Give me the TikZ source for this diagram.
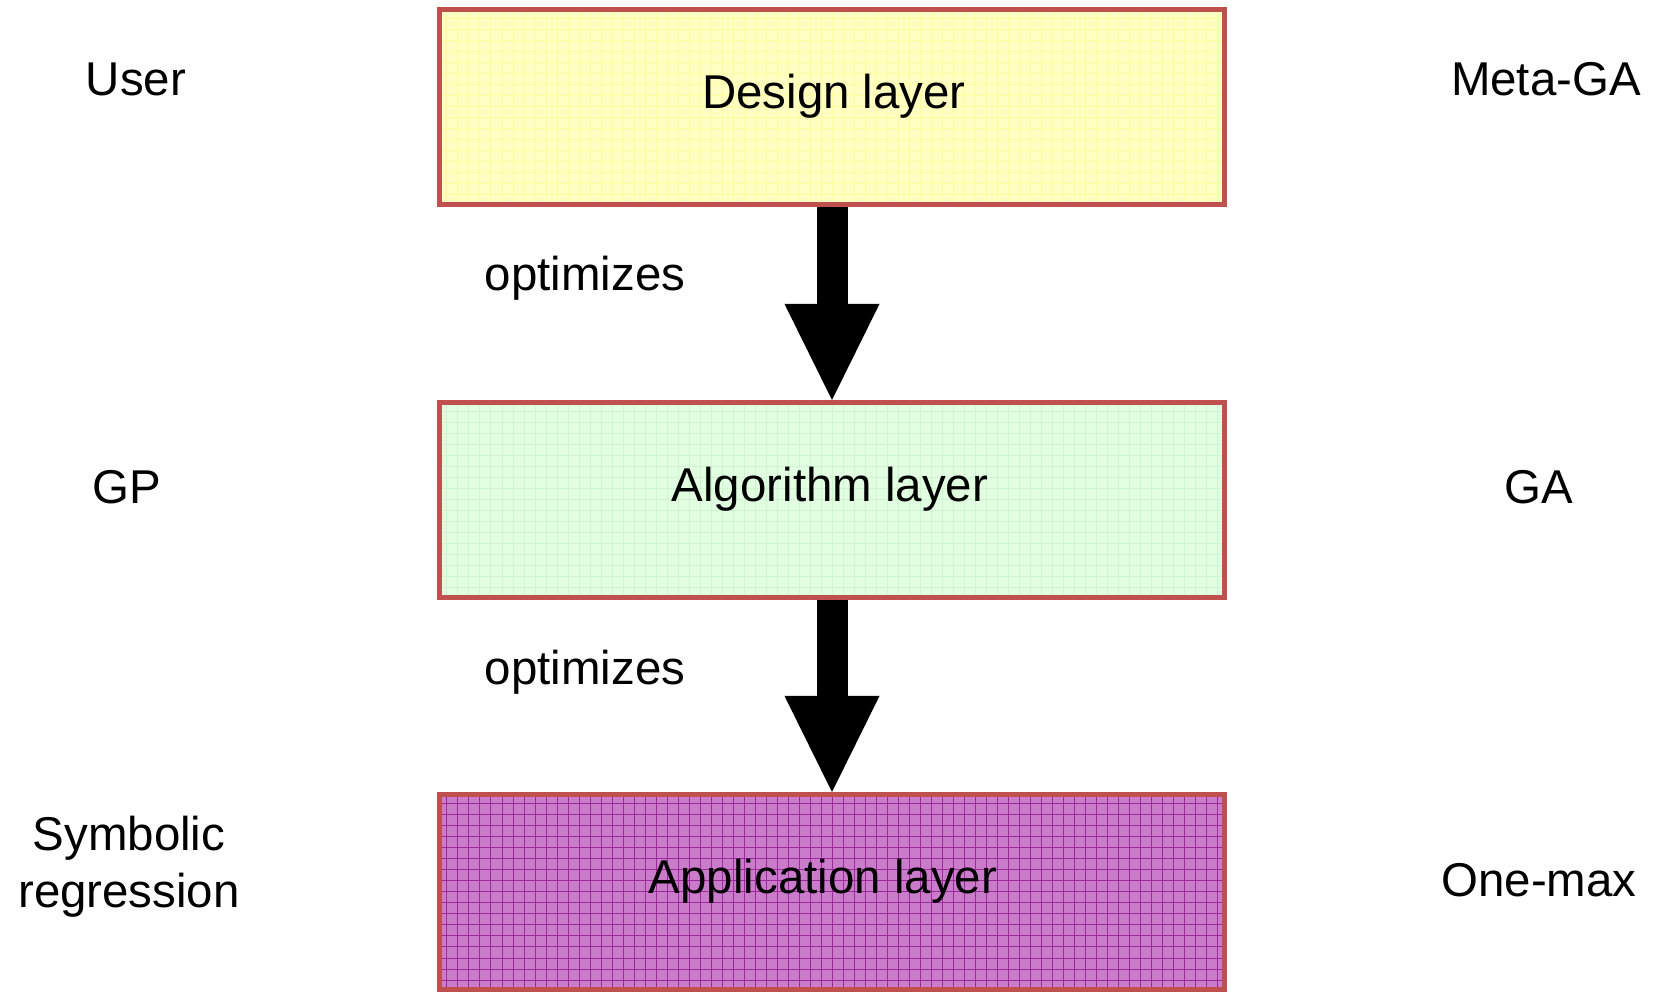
\documentclass[tikz,border=0pt]{standalone}
\usepackage{fontspec}
\setmainfont{Liberation Sans}
\usepackage{xcolor}
\usepackage{tikz}
\usetikzlibrary{
	arrows.meta,
	calc,
	positioning
}
\definecolor{layerborder}{HTML}{C0504D}
\definecolor{designfill}{HTML}{FFFFC4}
\definecolor{designgrid}{HTML}{FFFFA0}
\definecolor{algofill}{HTML}{E2FFE2}
\definecolor{algogrid}{HTML}{CDF7CD}
\definecolor{appfill}{HTML}{CA7CCA}
\definecolor{appgrid}{HTML}{9C2A9C}

\begin{document}
\begin{tikzpicture}[x=0.2mm, y=-0.2mm,
		every node/.style={font=\fontsize{27}{32.4}\selectfont},
		layer/.style={draw=layerborder, line width=1mm, minimum width=157mm, minimum height=39mm, inner sep=0pt},
		gridfill/.style={path picture={\draw[#1, line width=0.2mm, step=2.2mm] (path picture bounding box.south west) grid (path picture bounding box.north east);}},
		bigarrow/.style={line width=6.2mm, -{Triangle[width=19mm, length=19.2mm, line width=0pt]}}
	]
		\useasboundingbox (0,0) rectangle (1654,992);
		% 三个层
		\node[layer, fill=designfill, gridfill=designgrid] (design) at (832,107) {};
		\node[layer, fill=algofill, gridfill=algogrid] (algo) at (832,500) {};
		\node[layer, fill=appfill, gridfill=appgrid] (app) at (832,892) {};
		\node (design-txt) at (834,96) {Design layer};
		\node (algo-txt) at (830,489) {Algorithm layer};
		\node (app-txt) at (823,881) {Application layer};
		% 箭头
		\draw[bigarrow] (design.south) -- (algo.north);
		\draw[bigarrow] (algo.south) -- (app.north);
		\node (opt1) at (585,278) {optimizes};
		\node (opt2) at (585,672) {optimizes};
		% 左侧标签
		\node (user) at (136,79) {User};
		\node (gp) at (127,487) {GP};
		\node[align=center] (symreg) at (129,867) {Symbolic\\regression};
		% 右侧标签
		\node (metaga) at (1546,79) {Meta-GA};
		\node (ga) at (1539,487) {GA};
		\node (onemax) at (1539,880) {One-max};
	\end{tikzpicture}
\end{document}
